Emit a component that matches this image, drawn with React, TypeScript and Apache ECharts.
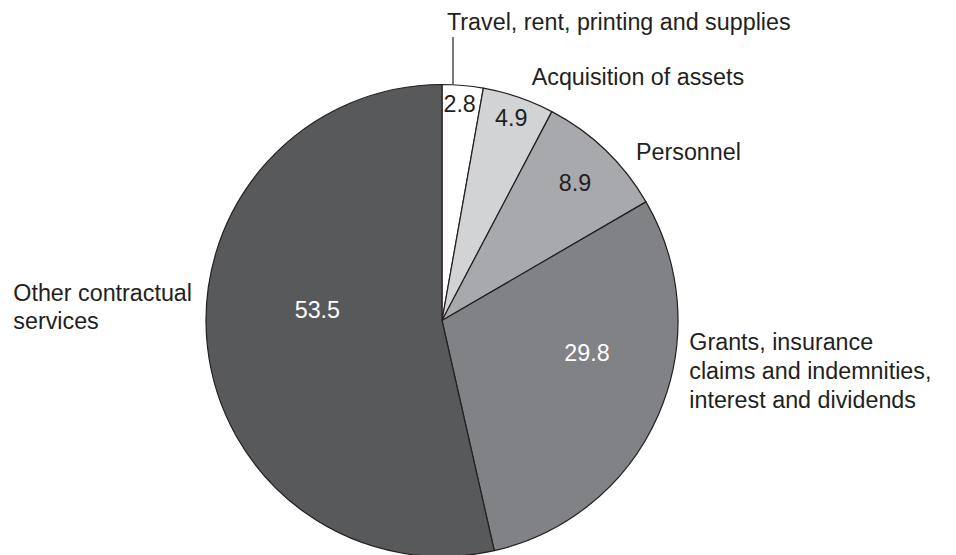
import React, { useEffect, useRef } from "react";
import * as echarts from "echarts";

const categories = [
  "Travel, rent, printing and supplies",
  "Acquisition of assets",
  "Personnel",
  "Grants, insurance\nclaims and indemnities,\ninterest and dividends",
  "Other contractual\nservices",
];
const values = [2.8, 4.9, 8.9, 29.8, 53.5];
const sliceColors = ["#ffffff", "#d1d3d4", "#a7a9ac", "#808285", "#58595b"];
const valueLabelColors = ["#231f20", "#231f20", "#231f20", "#ffffff", "#ffffff"];

// layout / style
const CX = 442;
const CY = 320.5;
const R = 236;
const FONT = "Liberation Sans, Arial, Helvetica, sans-serif";
const FS = 23.3;
// value label placement: [fraction of radius, angle offset in degrees]
const valueLabelPolar: [number, number][] = [
  [0.922, -0.4],
  [0.905, 0],
  [0.81, 0.3],
  [0.63, -10.8],
  [0.53, 11.2],
];
// name label anchors (left, vertical middle) and line heights
const nameAnchors: [number, number, number][] = [
  [447, 22.4, 28],
  [531.7, 77, 28],
  [636, 151.5, 28],
  [689.3, 370.6, 29],
  [13.3, 306.5, 28],
];

export default function App() {
  const ref = useRef<HTMLDivElement>(null);
  useEffect(() => {
    if (!ref.current) return;
    const chart = echarts.init(ref.current, undefined, { renderer: "svg" });
    const total = values.reduce((a, b) => a + b, 0);
    const starts: number[] = [];
    let acc = 0;
    values.forEach((v) => {
      starts.push(acc);
      acc += v;
    });

    const graphics: any[] = categories.map((name, i) => ({
      type: "text",
      x: nameAnchors[i][0],
      y: nameAnchors[i][1],
      style: {
        text: name,
        fill: "#231f20",
        font: `${FS}px ${FONT}`,
        lineHeight: nameAnchors[i][2],
        textAlign: "left",
        textVerticalAlign: "middle",
      },
      z: 10,
    }));
    graphics.push({
      type: "line",
      shape: { x1: 453, y1: 37, x2: 453, y2: 84.5 },
      style: { stroke: "#231f20", lineWidth: 1.2 },
      z: 10,
    });

    chart.setOption({
      animation: false,
      backgroundColor: "#ffffff",
      graphic: graphics,
      series: [
        {
          type: "pie",
          center: [CX, CY],
          radius: [0, R],
          startAngle: 90,
          clockwise: true,
          avoidLabelOverlap: false,
          minShowLabelAngle: 0,
          silent: true,
          itemStyle: { borderColor: "#231f20", borderWidth: 1.2 },
          label: {
            show: true,
            position: "inside",
            formatter: (p: any) => String(values[p.dataIndex].toFixed(1)),
            fontFamily: FONT,
            fontSize: FS,
          },
          labelLine: { show: false },
          labelLayout: (params: any) => {
            const i = params.dataIndex;
            const mid = ((starts[i] + values[i] / 2) / total) * 360 + valueLabelPolar[i][1];
            const a = (mid * Math.PI) / 180;
            const r = R * valueLabelPolar[i][0];
            return { x: CX + r * Math.sin(a), y: CY - r * Math.cos(a) };
          },
          data: values.map((v, i) => ({
            value: v,
            name: categories[i],
            itemStyle: { color: sliceColors[i] },
            label: { color: valueLabelColors[i] },
          })),
        },
      ],
    });
    return () => chart.dispose();
  }, []);
  return (
    <div
      ref={ref}
      style={{ position: "absolute", left: 0, top: 0, width: 956, height: 555 }}
    />
  );
}
